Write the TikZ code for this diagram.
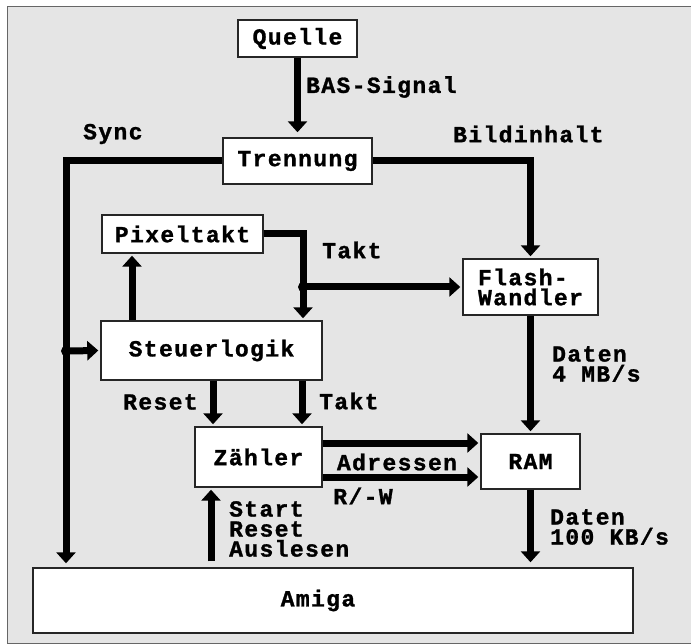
\documentclass[tikz,border=0pt]{standalone}
\usepackage{fontspec}
\newfontfamily\amigafont[LetterSpace=6, BoldFeatures={FakeBold=1.2}]{Liberation Mono}
\usepackage{tikz}
\usetikzlibrary{arrows.meta,positioning}

\begin{document}
\begin{tikzpicture}[x=1pt, y=-1pt,
    block/.style={draw=black!85, line width=1.4pt, fill=white, inner sep=0pt},
    bus/.style={line width=7pt, -{Triangle[width=19pt,length=11pt]}, shorten >=2pt},
    lbl/.style={inner sep=0pt, anchor=west, align=left},
    font=\amigafont\bfseries\fontsize{23}{20}\selectfont
]
\useasboundingbox (0,0) rectangle (691,644);
\fill[black!10] (7,7) rectangle (700,643);
\draw[black!60, line width=1pt] (7,7) rectangle (700,643);

% blocks
\node[block, minimum width=119pt, minimum height=37pt] (quelle) at (297.5,38.5) {Quelle};
\node[block, minimum width=149pt, minimum height=46pt] (trennung) at (297.5,161) {Trennung};
\node[block, minimum width=161pt, minimum height=38pt] (pixel) at (182.5,234) {Pixeltakt};
\node[block, minimum width=221pt, minimum height=59pt] (steuer) at (211.5,350.5) {Steuerlogik};
\node[block, minimum width=135pt, minimum height=56pt, align=left] (flash) at (530.5,287) {Flash-\\Wandler};
\node[block, minimum width=127pt, minimum height=60pt] (zaehler) at (258.5,457) {Zähler};
\node[block, minimum width=99pt, minimum height=55pt] (ram) at (530.5,461.5) {RAM};
\node[block, minimum width=600pt, minimum height=65pt] (amiga) at (333,600.5) {Amiga\hspace*{30pt}};

% junctions
\coordinate (syncx) at (66,351);
\coordinate (taktx) at (303,287);

% connectors
\draw[bus, shorten >=5pt] (quelle) -- (trennung);
\draw[bus, shorten >=4pt] (trennung.west) -| (syncx |- amiga.north);
\draw[bus] (syncx) -- (steuer.west);
\fill (syncx) circle (5pt);
\draw[bus] (trennung.east) -| (flash.north);
\draw[bus] (pixel.east) -| (taktx |- steuer.north);
\draw[bus] (taktx) -- (taktx -| flash.west);
\fill (taktx) circle (5pt);
\draw[bus] ([xshift=-79.5pt]steuer.north) -- ([xshift=-79.5pt]steuer.north |- pixel.south);
\draw[bus] ([xshift=-45.5pt]zaehler.north |- steuer.south) -- ([xshift=-45.5pt]zaehler.north);
\draw[bus] ([xshift=43.5pt]zaehler.north |- steuer.south) -- ([xshift=43.5pt]zaehler.north);
\draw[bus] ([yshift=14pt]zaehler.east) -- ([yshift=14pt]zaehler.east -| ram.west);
\draw[bus] ([yshift=-20pt]zaehler.east) -- ([yshift=-20pt]zaehler.east -| ram.west);
\draw[bus] (flash) -- (ram);
\draw[bus, shorten >=5pt] (ram) -- (ram |- amiga.north);
\draw[bus, shorten <=6pt] ([xshift=-47.5pt]zaehler.south |- amiga.north) -- ([xshift=-47.5pt]zaehler.south);

% labels
\node[lbl] (bas) at (306,87) {BAS-Signal};
\node[lbl] (sync) at (83,134) {Sync};
\node[lbl] (bild) at (453,134) {Bildinhalt};
\node[lbl] (takt1) at (322,250) {Takt};
\node[lbl] (reset) at (123,402) {Reset};
\node[lbl] (takt2) at (319,401) {Takt};
\node[lbl] (daten1) at (552,364) {Daten\\4 MB/s};
\node[inner sep=0pt] (adr) at (397,462) {Adressen};
\node[inner sep=0pt] (rw) at (363,496) {R/-W};
\node[lbl] (start) at (229,529) {Start\\Reset\\Auslesen};
\node[lbl] (daten2) at (550,527) {Daten\\100 KB/s};
\end{tikzpicture}
\end{document}
